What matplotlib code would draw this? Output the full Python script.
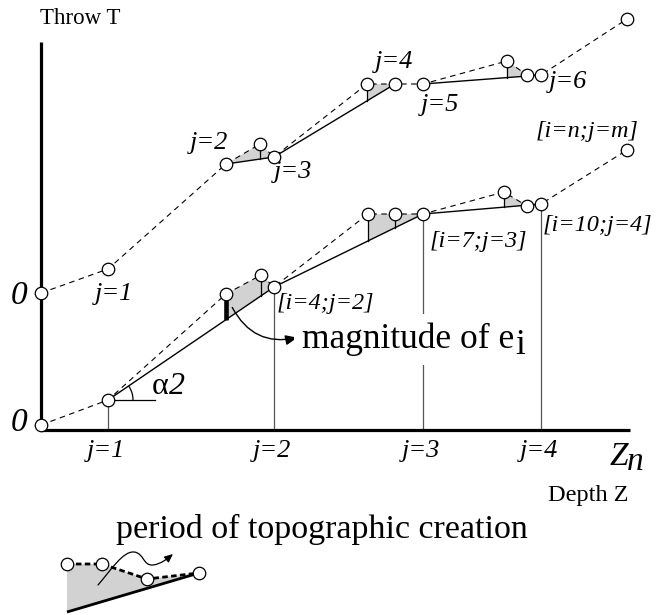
import numpy as np
import matplotlib
matplotlib.use("Agg")
import matplotlib.pyplot as plt
from matplotlib.patches import Arc, FancyArrowPatch, Polygon
from matplotlib.path import Path

plt.rcParams["font.family"] = ["Liberation Serif", "DejaVu Serif"]

# Fault-throw profile: depth Z and throw T of every node
# lower profile is indexed by segment i, upper profile by period j
depth_i = np.array([0, 67, 185, 220, 233, 327, 354, 382, 463, 486, 500, 586])
throw_i = np.array([0, 25, 131, 150, 138, 211, 211, 211, 233, 219, 221, 275])
depth_j = np.array([0, 67, 185, 219, 233, 326, 354, 382, 466, 486, 500, 586])
throw_j = np.array([132, 156, 261, 281, 268, 341, 341, 341, 364, 350, 350, 406])

# node indices joined by the solid (fault) line, shaded gaps and stems
solid_i = [[1, 4, 7, 10]]
solid_j = [[2, 4, 6], [7, 10]]
shade_i = [(2, 4), (5, 7), (8, 9)]
shade_j = [(2, 4), (5, 6), (8, 9)]
stems_i = [3, 5, 6, 8]
stems_j = [3, 5, 8]
drop_idx = [1, 4, 7, 10]
e_idx = 2

axis_j_labels = ["j=1", "j=2", "j=3", "j=4"]
upper_labels = ["j=1", "j=2", "j=3", "j=4", "j=5", "j=6", "[i=n;j=m]"]
lower_labels = ["[i=4;j=2]", "[i=7;j=3]", "[i=10;j=4]"]

# small glyph for the "period of topographic creation" key
glyph_z = np.array([26, 61, 106, 158])
glyph_t = np.array([-139, -139, -154, -148])
glyph_base = np.array([[26, -187], [158, -148]])

AXIS_T = -5
GRAY = "#d2d2d2"

fig = plt.figure(figsize=(6.62, 6.15), dpi=100)
ax = fig.add_axes([41 / 662, 185 / 615, 589 / 662, 388 / 615])
ax.set_xlim(0, 589)
ax.set_ylim(AXIS_T, 383)
ax.patch.set_visible(False)
for s in ("top", "right"):
    ax.spines[s].set_visible(False)
for s in ("left", "bottom"):
    ax.spines[s].set_linewidth(2.3)
    ax.spines[s].set_capstyle("butt")
ax.set_xticks([])
ax.set_yticks([])


def solid_fn(depth, throw, segs):
    nodes = sorted(set(k for seg in segs for k in seg))
    return lambda z: np.interp(z, depth[nodes], throw[nodes])


def draw_profile(depth, throw, segs, shades, stems):
    s = solid_fn(depth, throw, segs)
    for a, b in shades:
        pts = [(depth[k], throw[k]) for k in range(a, b + 1)]
        pts += [(depth[b], s(depth[b])), (depth[a], s(depth[a]))]
        ax.add_patch(Polygon(pts, closed=True, fc=GRAY, ec="none",
                             zorder=1, clip_on=False))
    ax.plot(depth, throw, color="black", lw=0.8, dashes=(5, 4),
            clip_on=False, zorder=2)
    for seg in segs:
        ax.plot(depth[seg], throw[seg], color="black", lw=1.0,
                clip_on=False, zorder=3)
    for k in stems:
        ax.plot([depth[k], depth[k]], [throw[k], s(depth[k])],
                color="black", lw=0.9, clip_on=False, zorder=3)
    ax.plot(depth, throw, "o", ms=9, mfc="white", mec="black", mew=0.9,
            clip_on=False, zorder=6)
    return s


s_i = draw_profile(depth_i, throw_i, solid_i, shade_i, stems_i)
s_j = draw_profile(depth_j, throw_j, solid_j, shade_j, stems_j)

# drop lines from the segment nodes down to the depth axis
for k in drop_idx:
    ax.plot([depth_i[k], depth_i[k]], [throw_i[k], AXIS_T], color="#555555",
            lw=0.9, zorder=1.5, clip_on=False)

# highlighted offset e_i
ze = depth_i[e_idx]
ax.plot([ze, ze], [throw_i[e_idx] - 6, s_i(ze)], color="black", lw=3.3,
        solid_capstyle="butt", zorder=4, clip_on=False)

# dip angle alpha_2
z1, t1 = depth_i[1], throw_i[1]
z4, t4 = depth_i[4], throw_i[4]
ang = np.degrees(np.arctan2(t4 - t1, z4 - z1))
ax.plot([z1, z1 + 47], [t1, t1], color="black", lw=0.9, zorder=3)
ax.add_patch(Arc((z1, t1), 50, 50, theta1=0, theta2=ang, color="black",
                 lw=0.9, zorder=3))
ta = ax.text(111, 38, "\u03b1", fontsize=23, ha="left", va="center")
ax.annotate("2", xy=(1, 0), xycoords=ta, xytext=(0, 0),
            textcoords="offset points", fontsize=23, style="italic",
            ha="left", va="bottom")

# arrow to the label
ax.add_patch(FancyArrowPatch((190, 120), (259, 88),
                             connectionstyle="arc3,rad=0.4",
                             arrowstyle="-|>,head_length=7,head_width=3",
                             color="black", lw=1.0, zorder=5))
tm = ax.text(261, 77, "magnitude of e", fontsize=25.5, ha="left",
             va="baseline", zorder=7,
             bbox=dict(fc="white", ec="none", pad=6))
ax.annotate("i", xy=(1, 0), xycoords=tm, xytext=(1, -6),
            textcoords="offset pixels", fontsize=25.5, ha="left",
            va="bottom", zorder=7)

# labels
ital = dict(style="italic", clip_on=False)
ax.text(39, 407, "Throw T", fontsize=16.5, ha="center", va="center")
ax.text(-22, 129, "0", fontsize=24, ha="center", va="center", **ital)
ax.text(-22, 2, "0", fontsize=24, ha="center", va="center", **ital)

upper_pos = [(73, 131), (168, 282), (252, 253), (353, 363), (399, 320),
             (527, 343), (546, 294)]
for lab, (x, y) in zip(upper_labels, upper_pos):
    fs = 17.5 if lab.startswith("[") else 19
    ax.text(x, y, lab, fontsize=fs, ha="center", va="center", **ital)

lower_pos = [(236, 122), (389, 184), (502, 200)]
for lab, (x, y) in zip(lower_labels, lower_pos):
    ax.text(x, y, lab, fontsize=17.5, ha="left", va="center", **ital)

for k, lab in zip(drop_idx, axis_j_labels):
    ax.text(depth_i[k] - 2, -26, lab, fontsize=19, ha="center",
            va="center", **ital)

tz = ax.text(569, -40, "Z", fontsize=24, ha="left", va="baseline", **ital)
ax.annotate("n", xy=(1, 0), xycoords=tz, xytext=(-2, -5),
            textcoords="offset pixels", fontsize=24, style="italic",
            ha="left", va="bottom")
ax.text(587, -70, "Depth Z", fontsize=17.5, ha="right", va="center")
ax.text(281, -113, "period of topographic creation", fontsize=24.5,
        ha="center", va="baseline")

# key glyph
gpoly = [(z, t) for z, t in zip(glyph_z, glyph_t)] + [tuple(glyph_base[0])]
ax.add_patch(Polygon(gpoly, closed=True, fc=GRAY, ec="none", zorder=1,
                     clip_on=False))
ax.plot(glyph_base[:, 0], glyph_base[:, 1], color="black", lw=2.0,
        solid_capstyle="butt", clip_on=False, zorder=3)
ax.plot(glyph_z, glyph_t, color="black", lw=2.0, dashes=(2, 1.2),
        clip_on=False, zorder=3)
ax.plot(glyph_z, glyph_t, "o", ms=9, mfc="white", mec="black", mew=0.9,
        clip_on=False, zorder=6)
squiggle = Path([(57, -160), (70, -145), (82, -126), (93, -127),
                 (103, -128), (102, -141), (112, -140),
                 (120, -139), (126, -134), (132, -129)],
                [Path.MOVETO] + [Path.CURVE4] * 9)
ax.add_patch(FancyArrowPatch(path=squiggle,
                             arrowstyle="-|>,head_length=5,head_width=2.2",
                             color="black", lw=0.9, zorder=5,
                             transform=ax.transData, clip_on=False))

fig.savefig("out.png", dpi=100)
